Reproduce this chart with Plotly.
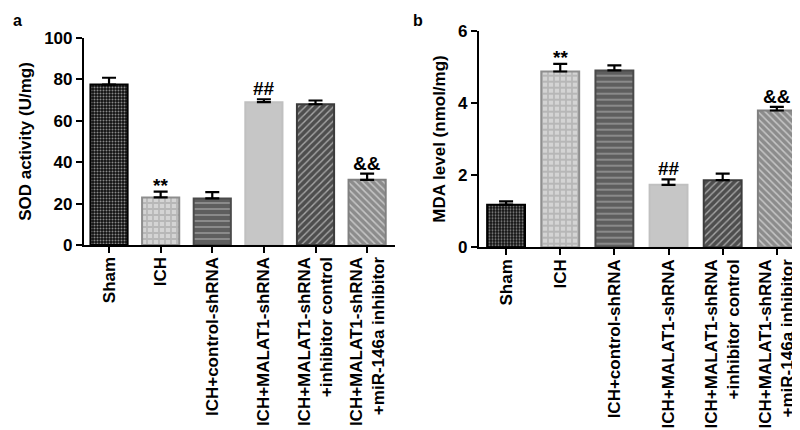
import plotly.graph_objects as go

categories = ["Sham", "ICH", "ICH+control-shRNA", "ICH+MALAT1-shRNA",
              "ICH+MALAT1-shRNA<br>+inhibitor control",
              "ICH+MALAT1-shRNA<br>+miR-146a inhibitor"]
sod_values = [77.5, 23.0, 22.5, 69.0, 68.0, 31.5]
sod_errors = [3.3, 2.8, 3.0, 1.4, 1.8, 3.0]
sod_marks = ["", "**", "", "##", "", "&&"]
mda_values = [1.18, 4.87, 4.90, 1.73, 1.86, 3.79]
mda_errors = [0.09, 0.21, 0.14, 0.15, 0.18, 0.10]
mda_marks = ["", "**", "", "##", "", "&&"]
sod_ticks = [0, 20, 40, 60, 80, 100]
mda_ticks = [0, 2, 4, 6]

FONT = "Liberation Sans, Arial, sans-serif"
bg = ["#111111", "#d4d4d4", "#5e5e5e", "#c6c6c6", "#4e4e4e", "#8c8c8c"]
fg = ["#ffffff", "#9a9a9a", "#ffffff", "#c6c6c6", "#ffffff", "#ffffff"]
shapes = [".", "+", "-", "", "/", "\\"]
psize = [3, 6, 6, 6, 5, 5]
solid = [0.35, 0.5, 0.18, 0.3, 0.28, 0.3]
border = ["#000000", "#8e8e8e", "#4a4a4a", "#c0c0c0", "#3c3c3c", "#808080"]

fig = go.Figure()

def add_panel(vals, errs, xa, ya, width):
    for i, c in enumerate(categories):
        pat = dict(shape=shapes[i], fgcolor=fg[i], bgcolor=bg[i],
                   size=psize[i], solidity=solid[i], fillmode="overlay")
        fig.add_trace(go.Bar(
            x=[c], y=[vals[i]], xaxis=xa, yaxis=ya, width=width,
            marker=dict(color=bg[i], line=dict(color=border[i], width=2), pattern=pat),
            error_y=dict(type="data", array=[errs[i]], arrayminus=[0],
                         symmetric=False, color="black", thickness=2.2, width=7),
            showlegend=False, hoverinfo="skip"))

add_panel(sod_values, sod_errors, "x", "y", 0.72)
add_panel(mda_values, mda_errors, "x2", "y2", 0.70)

for vals, errs, marks, xr, yr in [(sod_values, sod_errors, sod_marks, "x", "y"),
                                   (mda_values, mda_errors, mda_marks, "x2", "y2")]:
    for c, v, e, m in zip(categories, vals, errs, marks):
        if m:
            fig.add_annotation(x=c, y=v + e, xref=xr, yref=yr, text="<b>%s</b>" % m,
                               showarrow=False, yanchor="bottom",
                               yshift=-6 if m == "**" else -2,
                               font=dict(family=FONT, size=19, color="black"))

for t, x in [("a", 0.004), ("b", 0.504)]:
    fig.add_annotation(x=x, y=1 - 12 / 430, xref="paper", yref="paper", text="<b>%s</b>" % t,
                       showarrow=False, xanchor="left", yanchor="middle",
                       font=dict(family=FONT, size=16, color="black"))

xcommon = dict(type="category", showline=True, linecolor="black", linewidth=2.2,
               ticks="outside", ticklen=6, tickwidth=2, tickcolor="black",
               tickangle=-90, showgrid=False, zeroline=False, automargin=False,
               ticklabelstandoff=-3,
               tickfont=dict(family=FONT, size=17, color="black"))
ycommon = dict(showline=True, linecolor="black", linewidth=2.2,
               ticks="outside", ticklen=6, tickwidth=2, tickcolor="black",
               showgrid=False, zeroline=False, automargin=False,
               tickfont=dict(family=FONT, size=17, color="black"))

fig.update_layout(
    width=800, height=430, margin=dict(l=0, r=0, t=0, b=0),
    paper_bgcolor="white", plot_bgcolor="white", barmode="overlay",
    xaxis=dict(xcommon, domain=[76 / 800, 387 / 800], anchor="y", range=[-0.485, 5.54],
               tickvals=categories, ticktext=["<b>%s</b>" % c for c in categories]),
    yaxis=dict(ycommon, domain=[1 - 237 / 430, 1 - 30 / 430], anchor="x", range=[0, 100],
               tickvals=sod_ticks, ticktext=["<b>%d</b>" % v for v in sod_ticks],
               title=dict(text="<b>SOD activity (U/mg)</b>", standoff=8,
                          font=dict(family=FONT, size=17, color="black"))),
    xaxis2=dict(xcommon, domain=[471 / 800, 797 / 800], anchor="y2", range=[-0.5, 5.52],
                tickvals=categories, ticktext=["<b>%s</b>" % c for c in categories]),
    yaxis2=dict(ycommon, domain=[1 - 239.3 / 430, 1 - 22.7 / 430], anchor="x2", range=[0, 6],
                tickvals=mda_ticks, ticktext=["<b>%d</b>" % v for v in mda_ticks],
                title=dict(text="<b>MDA level (nmol/mg)</b>", standoff=8,
                           font=dict(family=FONT, size=17, color="black"))),
)

fig.write_html("out.html")
